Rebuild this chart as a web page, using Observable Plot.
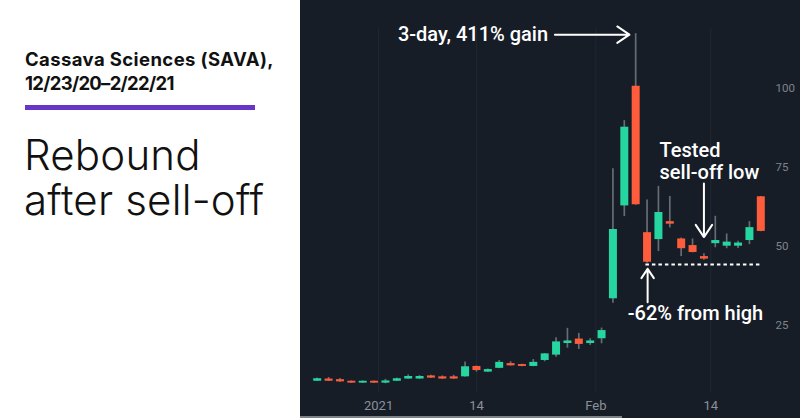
<!DOCTYPE html>
<html>
<head>
<meta charset="utf-8">
<script src="https://cdn.jsdelivr.net/npm/d3@7"></script>
<script src="https://cdn.jsdelivr.net/npm/@observablehq/plot@0.6"></script>
<style>
  html, body { margin: 0; padding: 0; background: #fff; }
  #wrap { position: relative; width: 800px; height: 418px; overflow: hidden; background: #fff; }
  .title { position: absolute; left: 25px; font-family: Inter, sans-serif; font-weight: 700;
           font-size: 18.5px; line-height: 23.5px; color: #111; white-space: nowrap; }
  #t1 { top: 48px; letter-spacing: 0.4px; }
  #t2 { top: 71.5px; letter-spacing: -0.7px; }
  #bar { position: absolute; left: 25px; top: 105px; width: 230px; height: 5px; background: #6636c9; }
  .headline { position: absolute; left: 24px; top: 132.2px; font-family: Inter, sans-serif; font-weight: 300;
              font-size: 42px; line-height: 45px; color: #111; white-space: pre; letter-spacing: 0.2px; }
  #right { position: absolute; left: 300px; top: 0; width: 500px; height: 418px; background: #161d27; }
  #scroll { position: absolute; left: 300px; top: 416px; width: 322px; height: 2px; background: #7d828a; }
</style>
</head>
<body>
<div id="wrap">
  <div class="title" id="t1">Cassava Sciences (SAVA),</div>
  <div class="title" id="t2">12/23/20–2/22/21</div>
  <div id="bar"></div>
  <div class="headline" id="headline"></div>
  <div id="right"></div>
  <div id="scroll"></div>
</div>
<script>
// ---- Data ----
const dates = ["2020-12-23","2020-12-24","2020-12-28","2020-12-29","2020-12-30","2020-12-31",
  "2021-01-04","2021-01-05","2021-01-06","2021-01-07","2021-01-08","2021-01-11","2021-01-12",
  "2021-01-13","2021-01-14","2021-01-15","2021-01-19","2021-01-20","2021-01-21","2021-01-22",
  "2021-01-25","2021-01-26","2021-01-27","2021-01-28","2021-01-29","2021-02-01","2021-02-02",
  "2021-02-03","2021-02-04","2021-02-05","2021-02-08","2021-02-09","2021-02-10","2021-02-11",
  "2021-02-12","2021-02-16","2021-02-17","2021-02-18","2021-02-19","2021-02-22"];
const open  = [7.1,7.8,7.6,7.1,6.5,7.1,6.5,7.1,7.8,7.8,8.8,8.5,8.5,8.5,11.8,10.0,11.2,12.7,12.4,11.8,
  13.7,15.4,19.1,20.5,19.1,20.6,33.3,62.8,100.8,54.3,52.1,57.8,52.3,50.2,46.7,50.8,50.0,50.0,51.8,65.7];
const high  = [8.1,8.3,8.0,7.2,7.2,7.2,7.7,8.1,9.1,8.9,9.0,8.8,9.0,13.2,11.9,11.0,13.7,13.3,12.5,14.0,
  15.9,20.9,23.9,22.3,20.6,24.0,74.6,89.9,117.5,64.7,69.0,65.8,52.6,52.3,47.6,59.5,53.9,51.6,57.8,65.8];
const low   = [7.0,7.0,6.8,6.4,6.4,6.4,6.3,7.0,7.7,7.7,8.0,7.7,7.7,8.4,10.0,9.9,11.1,11.9,11.7,11.7,
  13.3,14.7,17.6,17.2,18.5,19.0,31.9,59.4,63.0,44.6,48.3,55.8,46.7,47.9,45.5,49.5,49.2,49.3,50.5,54.6];
const close = [7.9,7.1,6.9,6.5,7.1,6.5,7.2,7.9,8.6,8.6,8.1,7.8,7.8,11.7,10.5,10.8,13.1,12.0,11.8,13.1,
  15.8,19.6,19.9,18.8,19.9,23.2,55.3,87.8,63.2,44.9,60.7,57.0,49.2,48.0,45.9,51.8,51.3,51.0,55.9,54.7];

// x tick positions (bar index, fractional where the date falls between sessions) and labels
const xTickPos = [5.4, 14, 24.5, 34.6];
const xTickLabels = ["2021", "14", "Feb", "14"];
const yTicks = [25, 50, 75, 100];

// annotations (data coordinates: bar index, price)
const supportLevel = 44.2;
const supportFrom = 28.9, supportTo = 39;
const annoArrows = [
  {x1: 20.9, y1: 117.2, x2: 27.45, y2: 117.2},
  {x1: 34.0, y1: 69.9, x2: 34.0, y2: 52.9},
  {x1: 29.05, y1: 32.2, x2: 29.05, y2: 42.8}
];
const annoEnd   = [{x: 20.3, y: 117.3, label: "3-day, 411% gain"}];
const annoStart = [
  {x: 30.1, y: 83.3, label: "Tested\nsell-off low"},
  {x: 27.3, y: 31.4, label: "-62% from high"}
];

document.getElementById("headline").textContent = "Rebound\nafter sell-off";

const UP = "#26d6a0", DOWN = "#ff5c3b";
const rows = dates.map((d, i) => ({i, date: d, open: open[i], high: high[i], low: low[i], close: close[i]}));

const chart = Plot.plot({
  width: 500,
  height: 418,
  marginTop: 28,
  marginBottom: 26,
  marginLeft: 0,
  marginRight: 30,
  style: {background: "#161d27", color: "#8b9099", fontFamily: "Roboto, sans-serif", overflow: "visible"},
  x: {domain: [0, 39], range: [16.7, 460.3]},
  y: {domain: [0, 100], range: [403.1, 88.3]},
  color: {type: "identity"},
  marks: [
    Plot.gridX(xTickPos, {stroke: "#212833", strokeOpacity: 1, strokeWidth: 1}),
    Plot.axisX(xTickPos, {tickSize: 0, tickPadding: 8, fontSize: 13, fill: "#8b9099",
      tickFormat: d => xTickLabels[xTickPos.indexOf(d)]}),
    Plot.axisY(yTicks, {anchor: "right", tickSize: 0, tickPadding: 5, fontSize: 11.5, fill: "#7f848c", textAnchor: "start"}),
    Plot.ruleX(rows, {x: "i", y1: "low", y2: "high", stroke: "#676c74", strokeWidth: 1.7}),
    Plot.ruleX(rows, {x: "i", y1: "open", y2: "close", stroke: d => d.close >= d.open ? UP : DOWN, strokeWidth: 8}),
    Plot.ruleY([supportLevel], {x1: () => supportFrom, x2: () => supportTo, y: d => d,
      stroke: "#ffffff", strokeWidth: 2, strokeDasharray: "3.5,3"}),
    Plot.arrow(annoArrows, {x1: "x1", y1: "y1", x2: "x2", y2: "y2", stroke: "#ffffff",
      strokeWidth: 2, headLength: 11, headAngle: 68}),
    Plot.text(annoEnd, {x: "x", y: "y", text: "label", textAnchor: "end", fill: "#ffffff",
      fontSize: 20, fontWeight: 500}),
    Plot.text(annoStart, {x: "x", y: "y", text: "label", textAnchor: "start", lineAnchor: "top",
      lineHeight: 1.1, fill: "#ffffff", fontSize: 20, fontWeight: 500})
  ]
});
document.getElementById("right").appendChild(chart);
</script>
</body>
</html>
